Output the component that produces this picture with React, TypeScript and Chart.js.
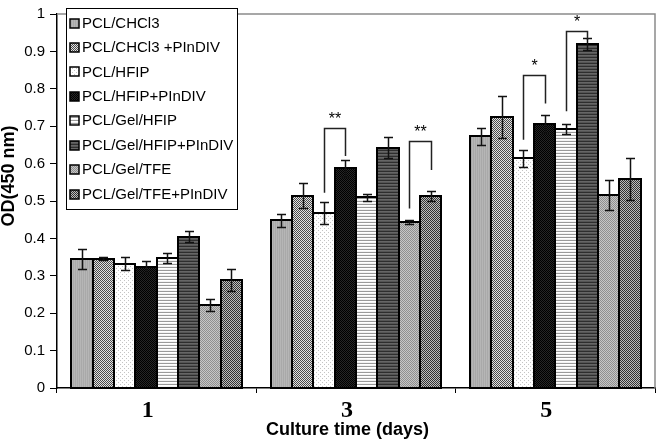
import React, { useEffect, useRef } from 'react';
import { Chart, registerables } from 'chart.js';

Chart.register(...registerables);

const categories = ['1', '3', '5'];
const seriesNames = [
  'PCL/CHCl3',
  'PCL/CHCl3 +PInDIV',
  'PCL/HFIP',
  'PCL/HFIP+PInDIV',
  'PCL/Gel/HFIP',
  'PCL/Gel/HFIP+PInDIV',
  'PCL/Gel/TFE',
  'PCL/Gel/TFE+PInDIV',
];
const pclChcl3 = [0.345, 0.448, 0.673];
const pclChcl3Pindiv = [0.345, 0.514, 0.724];
const pclHfip = [0.332, 0.467, 0.614];
const pclHfipPindiv = [0.323, 0.587, 0.706];
const pclGelHfip = [0.347, 0.51, 0.693];
const pclGelHfipPindiv = [0.405, 0.643, 0.919];
const pclGelTfe = [0.222, 0.444, 0.516];
const pclGelTfePindiv = [0.289, 0.514, 0.559];

const errChcl3 = [0.026, 0.017, 0.022];
const errChcl3Pindiv = [0.004, 0.033, 0.056];
const errHfip = [0.017, 0.029, 0.023];
const errHfipPindiv = [0.016, 0.023, 0.023];
const errGelHfip = [0.013, 0.009, 0.014];
const errGelHfipPindiv = [0.015, 0.029, 0.016];
const errGelTfe = [0.017, 0.006, 0.04];
const errGelTfePindiv = [0.029, 0.014, 0.056];

const seriesValues = [pclChcl3, pclChcl3Pindiv, pclHfip, pclHfipPindiv, pclGelHfip, pclGelHfipPindiv, pclGelTfe, pclGelTfePindiv];
const seriesErrors = [errChcl3, errChcl3Pindiv, errHfip, errHfipPindiv, errGelHfip, errGelHfipPindiv, errGelTfe, errGelTfePindiv];

const yTicksMin = 0;
const yTicksMax = 1;
const yTickStep = 0.1;

// significance brackets: category index, series A, series B, y at A, top y, y at B, label
const bracketCategory = [1, 1, 2, 2];
const bracketSeriesA = [2, 6, 2, 4];
const bracketSeriesB = [3, 7, 3, 5];
const bracketYA = [0.522, 0.48, 0.664, 0.74];
const bracketYTop = [0.695, 0.66, 0.837, 0.955];
const bracketYB = [0.62, 0.583, 0.761, 0.931];
const bracketLabels = ['**', '**', '*', '*'];

function makePattern(kind: number): CanvasPattern | string {
  const c = document.createElement('canvas');
  const ctx = c.getContext('2d');
  if (!ctx) return '#999';
  const px = (x: number, y: number, col: string) => {
    ctx.fillStyle = col;
    ctx.fillRect(x, y, 1, 1);
  };
  switch (kind) {
    case 0: {
      c.width = 2; c.height = 1;
      px(0, 0, '#b6b6b6'); px(1, 0, '#a9a9a9');
      break;
    }
    case 1: {
      c.width = 2; c.height = 2;
      px(0, 0, '#4a4a4a'); px(1, 1, '#4a4a4a');
      px(1, 0, '#e2e2e2'); px(0, 1, '#e2e2e2');
      break;
    }
    case 2: {
      c.width = 4; c.height = 4;
      ctx.fillStyle = '#ffffff'; ctx.fillRect(0, 0, 4, 4);
      px(0, 0, '#c4c4c4'); px(2, 2, '#c4c4c4');
      break;
    }
    case 3: {
      c.width = 2; c.height = 2;
      px(0, 0, '#000000'); px(1, 1, '#000000');
      px(1, 0, '#262626'); px(0, 1, '#262626');
      break;
    }
    case 4: {
      c.width = 1; c.height = 3;
      px(0, 0, '#9a9a9a'); px(0, 1, '#ffffff'); px(0, 2, '#f2f2f2');
      break;
    }
    case 5: {
      c.width = 1; c.height = 3;
      px(0, 0, '#2e2e2e'); px(0, 1, '#666666'); px(0, 2, '#555555');
      break;
    }
    case 6: {
      c.width = 2; c.height = 2;
      px(0, 0, '#8f8f8f'); px(1, 1, '#8f8f8f');
      px(1, 0, '#c6c6c6'); px(0, 1, '#c6c6c6');
      break;
    }
    default: {
      c.width = 2; c.height = 2;
      px(0, 0, '#333333'); px(1, 1, '#333333');
      px(1, 0, '#bdbdbd'); px(0, 1, '#bdbdbd');
      break;
    }
  }
  const p = ctx.createPattern(c, 'repeat');
  return p || '#999';
}

const FONT_SANS = '"Liberation Sans", Arial, sans-serif';
const FONT_SERIF = '"Liberation Serif", "Times New Roman", serif';

export default function App() {
  const ref = useRef<HTMLCanvasElement | null>(null);

  useEffect(() => {
    const canvas = ref.current;
    if (!canvas) return;
    const patterns = seriesNames.map((_, i) => makePattern(i));

    const overlay = {
      id: 'overlay',
      afterDatasetsDraw(chart: any) {
        const ctx = chart.ctx as CanvasRenderingContext2D;
        const y = chart.scales.y;
        const area = chart.chartArea;
        ctx.save();
        // frame (top & right)
        ctx.strokeStyle = '#8a8a8a';
        ctx.lineWidth = 1.5;
        ctx.beginPath();
        ctx.moveTo(area.left, area.top);
        ctx.lineTo(area.right, area.top);
        ctx.lineTo(area.right, area.bottom);
        ctx.stroke();

        // bar outlines
        ctx.strokeStyle = '#000';
        ctx.lineWidth = 2;
        seriesValues.forEach((_, di) => {
          const meta = chart.getDatasetMeta(di);
          meta.data.forEach((el: any) => {
            const l = Math.round(el.x - el.width / 2);
            const r = Math.round(el.x + el.width / 2);
            const t = Math.round(el.y);
            const b = Math.round(el.base);
            ctx.strokeRect(l, t, r - l, b - t);
          });
        });

        // error bars
        ctx.strokeStyle = '#111';
        ctx.lineWidth = 1.5;
        seriesValues.forEach((vals, di) => {
          const meta = chart.getDatasetMeta(di);
          meta.data.forEach((el: any, i: number) => {
            const v = vals[i];
            const e = seriesErrors[di][i];
            const yt = Math.round(y.getPixelForValue(v + e)) + 0.5;
            const yb = Math.round(y.getPixelForValue(v - e)) + 0.5;
            const x = Math.round(el.x) + 0.5;
            ctx.beginPath();
            ctx.moveTo(x, yt);
            ctx.lineTo(x, yb);
            ctx.moveTo(x - 4.5, yt);
            ctx.lineTo(x + 4.5, yt);
            ctx.moveTo(x - 4.5, yb);
            ctx.lineTo(x + 4.5, yb);
            ctx.stroke();
          });
        });

        // brackets
        ctx.strokeStyle = '#222';
        ctx.lineWidth = 1.5;
        ctx.fillStyle = '#000';
        ctx.font = `16px ${FONT_SANS}`;
        ctx.textAlign = 'center';
        ctx.textBaseline = 'middle';
        bracketCategory.forEach((ci, k) => {
          const ea = chart.getDatasetMeta(bracketSeriesA[k]).data[ci];
          const eb = chart.getDatasetMeta(bracketSeriesB[k]).data[ci];
          const xa = Math.round(ea.x) + 0.5;
          const xb = Math.round(eb.x) + 0.5;
          const ya = y.getPixelForValue(bracketYA[k]);
          const yt = Math.round(y.getPixelForValue(bracketYTop[k])) + 0.5;
          const yb = y.getPixelForValue(bracketYB[k]);
          ctx.beginPath();
          ctx.moveTo(xa, ya);
          ctx.lineTo(xa, yt);
          ctx.lineTo(xb, yt);
          ctx.lineTo(xb, yb);
          ctx.stroke();
          ctx.fillText(bracketLabels[k], (xa + xb) / 2, yt - 9);
        });

        // legend box
        const lx = 66.5, ly = 8.5, lw = 171, lh = 201;
        ctx.fillStyle = '#fff';
        ctx.fillRect(lx, ly, lw, lh);
        ctx.strokeStyle = '#000';
        ctx.lineWidth = 1;
        ctx.strokeRect(lx, ly, lw, lh);
        ctx.font = `15px ${FONT_SANS}`;
        ctx.textAlign = 'left';
        ctx.textBaseline = 'middle';
        seriesNames.forEach((name, i) => {
          const cy = 22.5 + i * 24.45;
          ctx.fillStyle = patterns[i] as any;
          ctx.fillRect(70, Math.round(cy) - 4, 9, 9);
          ctx.strokeStyle = '#000';
          ctx.lineWidth = 1.5;
          ctx.strokeRect(70, Math.round(cy) - 4, 9, 9);
          ctx.fillStyle = '#000';
          ctx.fillText(name, 82, cy + 1);
        });

        // axis titles
        ctx.fillStyle = '#000';
        ctx.font = `bold 18px ${FONT_SANS}`;
        ctx.textAlign = 'center';
        ctx.textBaseline = 'middle';
        ctx.fillText('Culture time (days)', 347.5, 430);
        ctx.translate(9, 176);
        ctx.rotate(-Math.PI / 2);
        ctx.fillText('OD(450 nm)', 0, 0);
        ctx.restore();
      },
    };

    const chart = new Chart(canvas, {
      type: 'bar',
      data: {
        labels: categories,
        datasets: seriesNames.map((name, i) => ({
          label: name,
          data: seriesValues[i],
          backgroundColor: patterns[i] as any,
          borderWidth: 0,
          inflateAmount: 0,
          categoryPercentage: 0.855,
          barPercentage: 1,
        })),
      },
      options: {
        responsive: false,
        animation: false,
        layout: { padding: { top: 6, right: 3, left: 0, bottom: 0 } },
        plugins: {
          legend: { display: false },
          tooltip: { enabled: false },
          title: { display: false },
        },
        scales: {
          x: {
            grid: {
              display: true,
              drawOnChartArea: false,
              drawTicks: true,
              tickLength: 5,
              color: '#000',
              offset: true,
            },
            border: { display: true, color: '#000', width: 1.5 },
            ticks: {
              color: '#000',
              font: { family: FONT_SERIF, size: 24, weight: 'bold' },
              padding: 3,
              labelOffset: -9,
            },
            afterFit: (s: any) => {
              s.height = 53;
            },
          },
          y: {
            min: yTicksMin,
            max: yTicksMax,
            grid: {
              display: true,
              drawOnChartArea: false,
              drawTicks: true,
              tickLength: 7,
              color: '#000',
            },
            border: { display: true, color: '#000', width: 1.5 },
            ticks: {
              stepSize: yTickStep,
              color: '#000',
              font: { family: FONT_SANS, size: 15 },
              padding: 5,
              callback: (v: any) => String(Number(Number(v).toFixed(1))),
            },
            afterFit: (s: any) => {
              s.width = 57;
            },
          },
        },
      },
      plugins: [overlay],
    });
    return () => chart.destroy();
  }, []);

  return (
    <div style={{ position: 'absolute', left: 0, top: 0, width: 658, height: 441, background: '#fff' }}>
      <canvas ref={ref} width={658} height={441} style={{ display: 'block', width: 658, height: 441 }} />
    </div>
  );
}
